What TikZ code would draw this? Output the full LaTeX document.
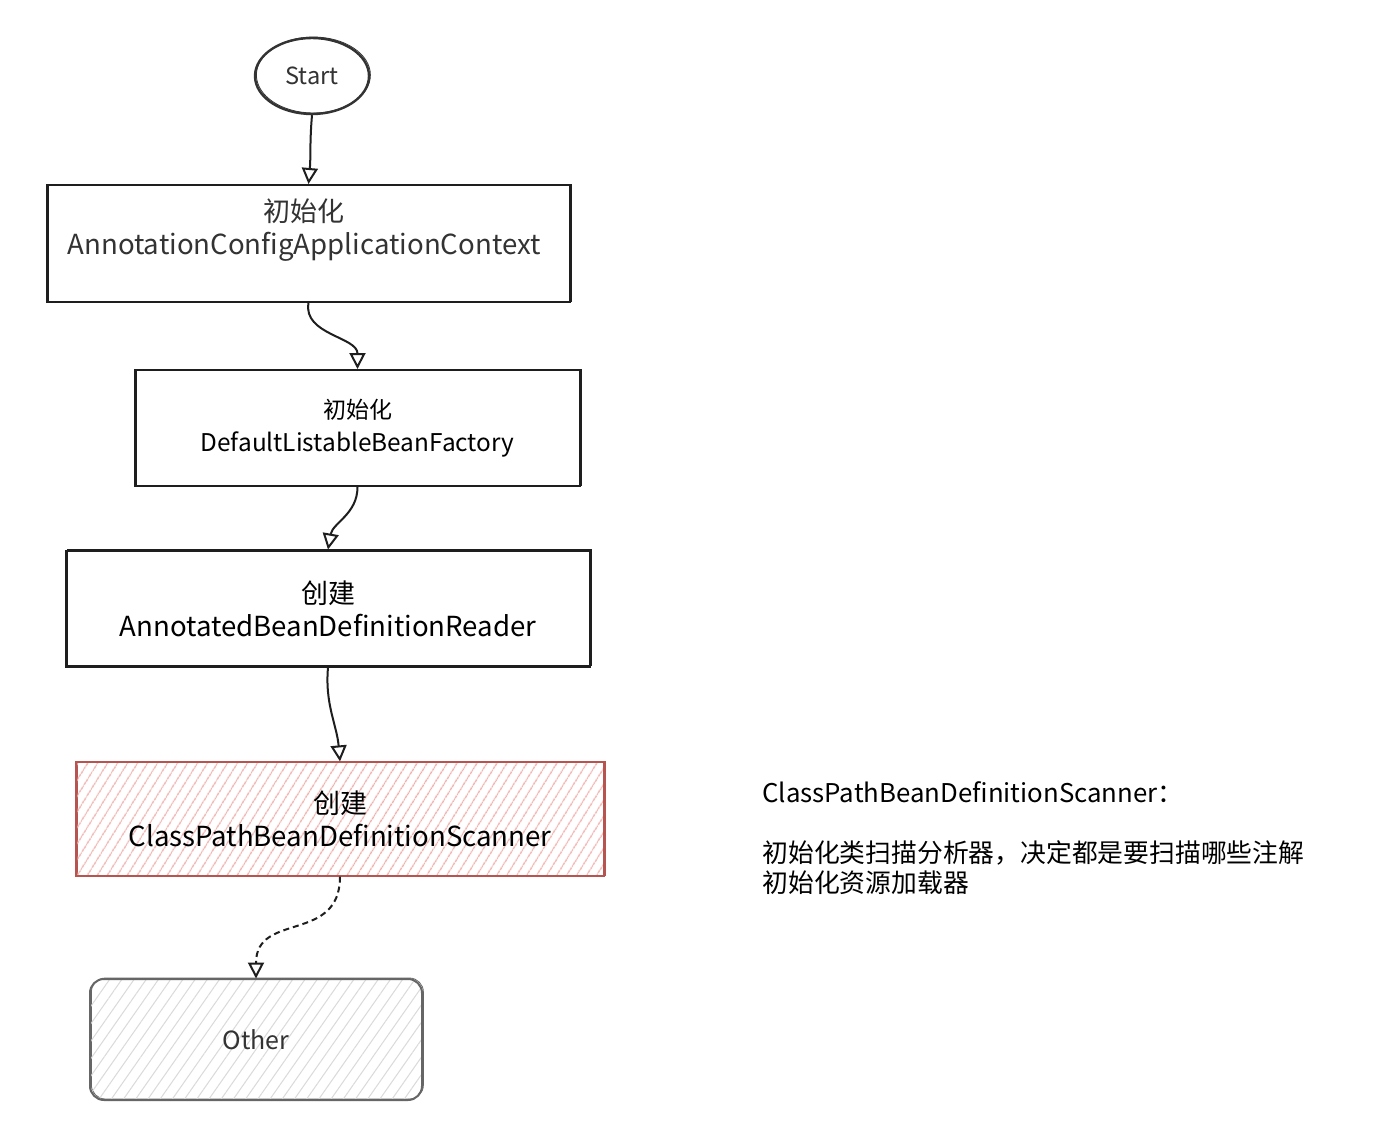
\documentclass[tikz,border=0pt]{standalone}
\usepackage{fontspec}
\setmainfont{Noto Sans CJK SC}
\usepackage{tikz}
\usetikzlibrary{positioning,arrows.meta,shapes.geometric,patterns.meta}
\definecolor{ink}{HTML}{1E1E1E}
\definecolor{softink}{HTML}{333333}
\definecolor{scanred}{HTML}{B85450}
\definecolor{scanhatch}{HTML}{EFB0AC}
\definecolor{otherline}{HTML}{666666}
\definecolor{otherhatch}{HTML}{DADADA}
\newcommand\bigname[1]{{\fontsize{13.8pt}{16.5pt}\selectfont #1}}
\newcommand\smallname[1]{{\fontsize{12.2pt}{16.5pt}\selectfont #1}}
\tikzset{
    >={Triangle[open,length=8pt,width=8pt]},
    sketch/.style={
        preaction={draw, line width=0.4pt,
            transform canvas={shift={(0.7pt,0.5pt)}}}
    },
    flowbox/.style={
        rectangle,
        draw=ink, line width=1pt,
        sketch,
        align=center,
        inner sep=0pt
    },
    scanbox/.style={
        flowbox,
        draw=scanred,
        pattern={Lines[angle=58,distance=4pt,line width=0.6pt]},
        pattern color=scanhatch
    },
    otherbox/.style={
        flowbox,
        draw=otherline,
        rounded corners=7pt,
        pattern={Lines[angle=55,distance=5pt,line width=0.5pt]},
        pattern color=otherhatch
    },
    startnode/.style={
        ellipse,
        draw=softink, line width=1.2pt,
        sketch,
        inner sep=0pt
    },
    flow/.style={->, draw=ink, line width=1pt},
    bigtext/.style={font={\fontsize{13.5pt}{16.5pt}\selectfont}},
    smalltext/.style={font={\fontsize{11.5pt}{16.5pt}\selectfont}},
}

\begin{document}
\begin{tikzpicture}[x=0.5pt, y=-0.5pt]

\fill [white] (0,0) rectangle (1392,1136);
\useasboundingbox (0,0) rectangle (1392,1136);

% flow steps
\node [startnode, minimum width=57pt, minimum height=38pt,
  text=softink, font={\fontsize{11.8pt}{14pt}\selectfont}]
  (start) at (312,76) {Start};

\node [flowbox, minimum width=261.5pt, minimum height=58.5pt]
  (ctx) at (308.5,243.5) {};
\node [bigtext, text=softink, align=center]
  (ctx-text) at (304,230) {初始化\\\bigname{AnnotationConfigApplicationContext}};

\node [flowbox, smalltext, minimum width=222.5pt, minimum height=58pt]
  (factory) at (357.5,428) {初始化\\\smallname{DefaultListableBeanFactory}};

\node [flowbox, bigtext, minimum width=262pt, minimum height=58pt]
  (reader) at (328,608.5) {创建\\\bigname{AnnotatedBeanDefinitionReader}};

\node [scanbox, bigtext, minimum width=264pt, minimum height=57pt]
  (scanner) at (340,819) {创建\\\bigname{ClassPathBeanDefinitionScanner}};

\node [otherbox, minimum width=166pt, minimum height=60.5pt,
  text=softink, font={\fontsize{12.5pt}{14pt}\selectfont}]
  (other) at (256,1039.5) {Other};

% side note
\node [anchor=north west, align=left, inner sep=0pt,
  font={\fontsize{12.9pt}{15pt}\selectfont}]
  (scanner-note) at (762,781)
  {ClassPathBeanDefinitionScanner：\\ \\
   初始化类扫描分析器，决定都是要扫描哪些注解\\初始化资源加载器};

% connectors
\foreach \a/\b/\o/\i in {start/ctx/-95/85, ctx/factory/-100/90,
                         factory/reader/-90/80, reader/scanner/-95/95}
  \draw [flow] (\a.south) to [out=\o, in=\i] (\b.north);

\draw [flow, dash pattern=on 3pt off 2pt]
  (scanner.south) to [out=-90, in=90, looseness=1.3] (other.north);

\end{tikzpicture}
\end{document}
